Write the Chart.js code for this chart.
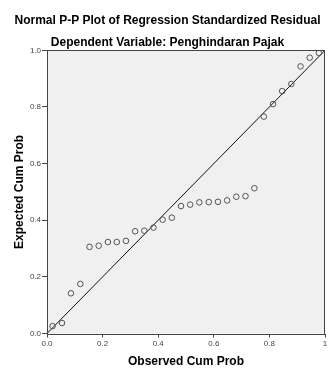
<!DOCTYPE html>
<html>
<head>
<meta charset="utf-8">
<script src="https://cdn.jsdelivr.net/npm/chart.js@4/dist/chart.umd.min.js"></script>
<style>
  body { margin: 0; background: #fff; }
  #wrap { width: 330px; height: 369px; }
</style>
</head>
<body>
<div id="wrap"><canvas id="ppChart" width="330" height="369"></canvas></div>
<script>
// observed vs expected cumulative probabilities
const observedCum = [0.020, 0.054, 0.086, 0.120, 0.153, 0.186, 0.219, 0.251, 0.284, 0.317,
                     0.350, 0.383, 0.416, 0.449, 0.482, 0.515, 0.548, 0.582, 0.615, 0.648,
                     0.681, 0.714, 0.746, 0.780, 0.813, 0.846, 0.879, 0.912, 0.945, 0.978];
const expectedCum = [0.026, 0.037, 0.142, 0.175, 0.306, 0.310, 0.323, 0.323, 0.327, 0.361,
                     0.363, 0.374, 0.402, 0.409, 0.450, 0.455, 0.463, 0.464, 0.465, 0.470,
                     0.483, 0.485, 0.513, 0.766, 0.810, 0.856, 0.881, 0.943, 0.974, 0.991];
const refLine = [0, 1];   // diagonal x = y
const xTickLabels = ['0.0', '0.2', '0.4', '0.6', '0.8', '1'];
const yTickLabels = ['0.0', '0.2', '0.4', '0.6', '0.8', '1.0'];

const FONT = 'Arial, "Liberation Sans", sans-serif';

// grey plot background + frame like the SPSS output
const plotFrame = {
  id: 'plotFrame',
  beforeDraw(chart) {
    const a = chart.chartArea, ctx = chart.ctx;
    ctx.save();
    ctx.fillStyle = '#f0f0f0';
    ctx.fillRect(a.left, a.top, a.right - a.left, a.bottom - a.top);
    ctx.restore();
  },
  afterDraw(chart) {
    const a = chart.chartArea, ctx = chart.ctx;
    ctx.save();
    ctx.strokeStyle = '#444';
    ctx.lineWidth = 1;
    const l = Math.round(a.left) + 0.5, t = Math.round(a.top) + 0.5;
    const r = Math.round(a.right) - 0.5, b = Math.round(a.bottom) + 0.5;
    ctx.strokeRect(l, t, r - l, b - t);
    ctx.restore();
  }
};

const points = observedCum.map((x, i) => ({ x: x, y: expectedCum[i] }));
const diag = refLine.map(v => ({ x: v, y: v }));

const ctx = document.getElementById('ppChart').getContext('2d');
const myChart = new Chart(ctx, {
  type: 'scatter',
  data: {
    datasets: [{
      label: 'Observed',
      data: points,
      pointStyle: 'circle',
      pointRadius: 2.8,
      pointBorderWidth: 1,
      pointBorderColor: '#555',
      pointBackgroundColor: 'rgba(0,0,0,0)',
      showLine: false
    }, {
      label: 'Reference',
      type: 'line',
      data: diag,
      borderColor: '#111',
      borderWidth: 1,
      pointRadius: 0,
      fill: false
    }]
  },
  options: {
    responsive: false,
    animation: false,
    layout: { padding: { left: 6, right: 1, top: 0, bottom: 0 } },
    plugins: {
      legend: { display: false },
      tooltip: { enabled: false },
      title: {
        display: true,
        text: 'Normal P-P Plot of Regression Standardized Residual',
        color: '#000',
        font: { family: FONT, size: 12, weight: 'bold', lineHeight: 1.2 },
        padding: { top: 13, bottom: 0 }
      },
      subtitle: {
        display: true,
        text: 'Dependent Variable: Penghindaran Pajak',
        color: '#000',
        font: { family: FONT, size: 12, weight: 'bold', lineHeight: 1.2 },
        padding: { top: 8.5, bottom: 0 }
      }
    },
    scales: {
      x: {
        type: 'linear',
        min: 0,
        max: 1,
        afterBuildTicks: (scale) => { scale.ticks = xTickLabels.map(Number).map(v => ({ value: v })); },
        afterFit: (scale) => { scale.height = 35.5; scale.paddingLeft = 0; scale.paddingRight = 0; },
        ticks: {
          callback: (v, i) => xTickLabels[i],
          color: '#444',
          font: { family: FONT, size: 8 },
          padding: 1,
          maxRotation: 0
        },
        grid: { drawOnChartArea: false, drawTicks: true, tickLength: 4, color: '#444' },
        border: { display: false },
        title: {
          display: true,
          text: 'Observed Cum Prob',
          color: '#000',
          font: { family: FONT, size: 12, weight: 'bold', lineHeight: 1.2 },
          padding: { top: 4, bottom: 0 }
        }
      },
      y: {
        type: 'linear',
        min: 0,
        max: 1,
        afterBuildTicks: (scale) => { scale.ticks = yTickLabels.map(Number).map(v => ({ value: v })); },
        afterFit: (scale) => { scale.width = 41; },
        ticks: {
          callback: (v, i) => yTickLabels[i],
          color: '#444',
          font: { family: FONT, size: 8 },
          padding: 1
        },
        grid: { drawOnChartArea: false, drawTicks: true, tickLength: 5, color: '#444' },
        border: { display: false },
        title: {
          display: true,
          text: 'Expected Cum Prob',
          color: '#000',
          font: { family: FONT, size: 12, weight: 'bold', lineHeight: 1.2 },
          padding: { top: 6, bottom: 4 }
        }
      }
    }
  },
  plugins: [plotFrame]
});
</script>
</body>
</html>
